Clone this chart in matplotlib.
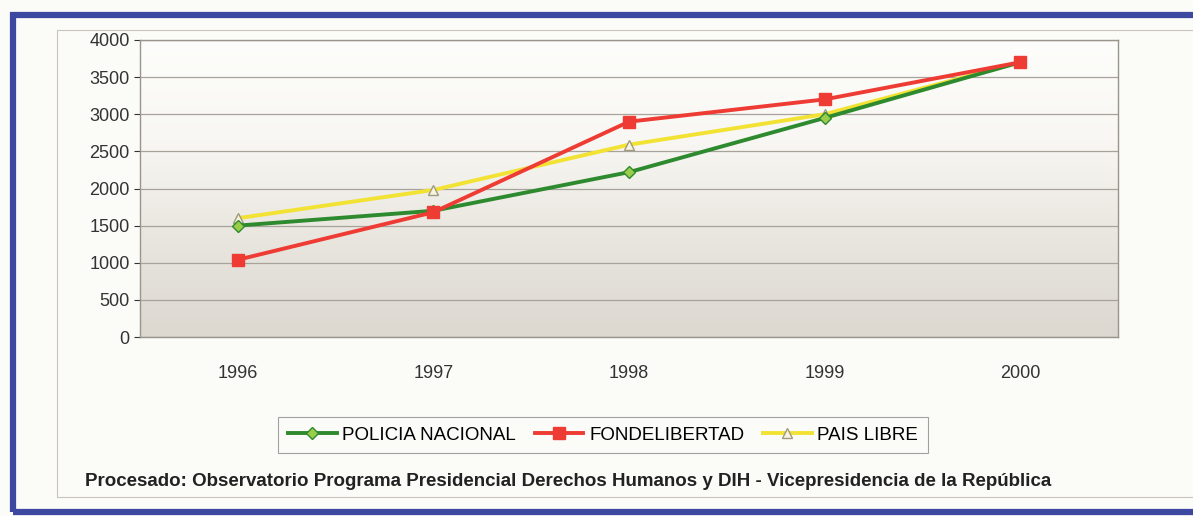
import numpy as np
import matplotlib.pyplot as plt
from matplotlib.patches import Rectangle
from matplotlib.colors import LinearSegmentedColormap

plt.rcParams['font.family'] = ['Liberation Sans', 'DejaVu Sans']

years = ['1996', '1997', '1998', '1999', '2000']
policia = [1500, 1700, 2220, 2950, 3700]
fondelibertad = [1040, 1680, 2900, 3200, 3700]
pais_libre = [1600, 1980, 2590, 3000, 3700]
yticks = [0, 500, 1000, 1500, 2000, 2500, 3000, 3500, 4000]

W, H = 1193, 516
fig = plt.figure(figsize=(W/100, H/100), dpi=100)
fig.patch.set_facecolor('#fbfbf8')

# blue frame round the chart, and the thin grey chart border inside it
fig.patches.append(Rectangle((13/W, 1-512/H), 1.2, (512-15)/H,
                             transform=fig.transFigure, fill=False,
                             edgecolor='#3d49a0', linewidth=4.5))
fig.patches.append(Rectangle((57/W, 1-497/H), 1.2, (497-30)/H,
                             transform=fig.transFigure, fill=False,
                             edgecolor='#c8c4bc', linewidth=0.8))

ax = fig.add_axes([140/W, 1-337/H, (1118-140)/W, (337-40)/H])
x = np.arange(len(years))

# background gradient of the plot area
grad = np.linspace(0, 1, 256).reshape(-1, 1)
cmap = LinearSegmentedColormap.from_list('bg', ['#dcd8d0', '#e9e6df', '#f8f7f3', '#fdfdfb'])
ax.imshow(grad, extent=[-0.5, 4.5, 0, 4000], aspect='auto', cmap=cmap,
          origin='lower', zorder=0)

for v in yticks:
    ax.axhline(v, color='#a8a39a', linewidth=0.9, zorder=1)

ax.plot(x, policia, color='#2e8a2e', linewidth=2.8, marker='D', markersize=6,
        markerfacecolor='#9acd4a', markeredgecolor='#2e8a2e', label='POLICIA NACIONAL', zorder=3)
ax.plot(x, fondelibertad, color='#ee3b34', linewidth=2.8, marker='s', markersize=8,
        markerfacecolor='#ee3b34', markeredgecolor='#ee3b34', label='FONDELIBERTAD', zorder=4)
ax.plot(x, pais_libre, color='#f2e233', linewidth=2.8, marker='^', markersize=7,
        markerfacecolor='#f6f3e0', markeredgecolor='#a09a80', label='PAIS LIBRE', zorder=2)

ax.set_xlim(-0.5, 4.5)
ax.set_ylim(0, 4000)
ax.set_xticks(x)
ax.set_xticklabels(years)
ax.set_yticks(yticks)
ax.tick_params(axis='both', labelsize=13, colors='#333333', length=4)
ax.tick_params(axis='x', length=0, pad=20)
for s in ax.spines.values():
    s.set_color('#9a958c')
    s.set_linewidth(1)

leg = fig.legend(loc='center', bbox_to_anchor=(603/W, 1-435/H), ncol=3,
                 fontsize=13.5, frameon=True, fancybox=False, handlelength=2.6,
                 columnspacing=1.0, handletextpad=0.3, borderpad=0.5)
leg.get_frame().set_edgecolor('#8a8a8a')
leg.get_frame().set_facecolor('#fbfbf8')
leg.get_frame().set_linewidth(0.8)

fig.text(85/W, 1-481/H,
         'Procesado: Observatorio Programa Presidencial Derechos Humanos y DIH - Vicepresidencia de la República',
         fontsize=13.5, fontweight='bold', color='#222222', va='center', ha='left')

fig.savefig('out.png', dpi=100, facecolor=fig.get_facecolor())
